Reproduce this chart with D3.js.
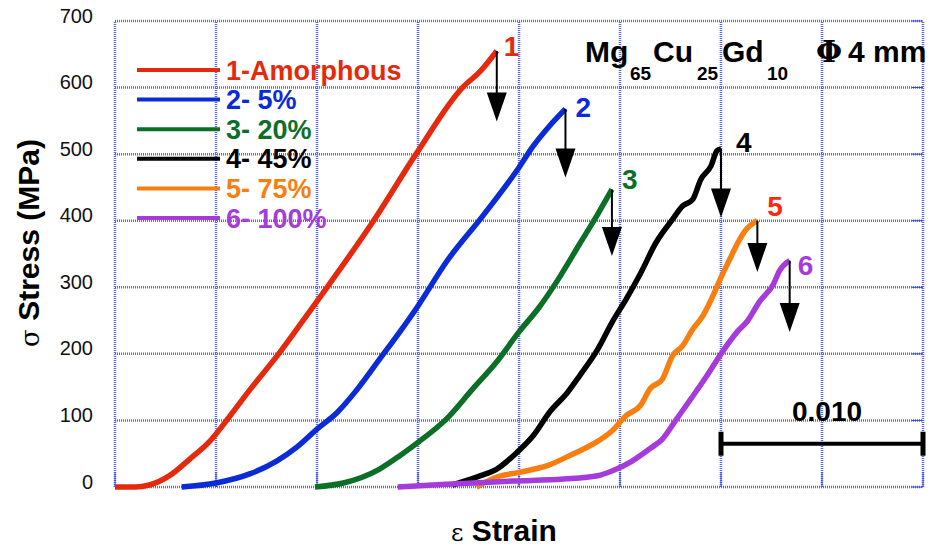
<!DOCTYPE html>
<html>
<head>
<meta charset="utf-8">
<script src="https://cdn.jsdelivr.net/npm/d3@7"></script>
<style>
  html, body { margin: 0; padding: 0; background: #fff; }
  svg { display: block; font-family: "Liberation Sans", Arial, Helvetica, sans-serif; }
</style>
</head>
<body>
<svg id="chart" width="933" height="554"></svg>
<script>
// ---------------- DATA ----------------
const seriesNames = ["1-Amorphous", "2- 5%", "3- 20%", "4- 45%", "5- 75%", "6- 100%"];
const peakLabels = ["1", "2", "3", "4", "5", "6"];

// [strain, stress (MPa)]
const curve1 = [[0,0],[0.0010,0],[0.0017,3],[0.0027,17],[0.0037,42],[0.0047,69],[0.0057,107],[0.0067,147],[0.0081,200],[0.0090,237],[0.0105,300],[0.0128,400],[0.0149,500],[0.0172,600],[0.0181,625],[0.0189,655]];
const curve2 = [[0.0033,0],[0.0050,6],[0.0067,20],[0.0080,39],[0.0090,60],[0.0100,87],[0.0110,112],[0.0120,147],[0.0131,192],[0.0141,233],[0.0150,272],[0.0164,338],[0.0182,407],[0.0200,480],[0.0207,512],[0.0215,542],[0.0223,568]];
const curve3 = [[0.0099,0],[0.0113,6],[0.0131,27],[0.0141,47],[0.0150,67],[0.0164,102],[0.0177,147],[0.0189,188],[0.0200,233],[0.0210,270],[0.0219,310],[0.0230,365],[0.0239,410],[0.0246,447]];
const curve4 = [[0.0167,3],[0.0181,17],[0.0189,27],[0.0199,52],[0.0207,77],[0.0215,112],[0.0224,142],[0.0230,167],[0.0239,207],[0.0246,247],[0.0253,282],[0.0260,320],[0.0268,368],[0.0276,402],[0.0281,422],[0.0286,432],[0.0290,462],[0.0295,482],[0.0298,505],[0.0300,508]];
const curve5 = [[0.0179,0],[0.0189,15],[0.0200,22],[0.0214,32],[0.0227,50],[0.0237,65],[0.0246,84],[0.0253,107],[0.0260,122],[0.0265,148],[0.0271,162],[0.0276,197],[0.0281,212],[0.0286,237],[0.0291,257],[0.0296,287],[0.0300,315],[0.0304,340],[0.0308,365],[0.0312,385],[0.0318,400]];
const curve6 = [[0.0140,0],[0.0164,4],[0.0197,9],[0.0222,12],[0.0239,17],[0.0246,24],[0.0256,39],[0.0265,58],[0.0271,72],[0.0278,102],[0.0285,132],[0.0293,167],[0.0300,200],[0.0308,233],[0.0313,249],[0.0319,278],[0.0326,305],[0.0329,325],[0.0334,340]];
const curves = [curve1, curve2, curve3, curve4, curve5, curve6];

// stress reached by the tip of each fracture arrow
const arrowTipStress = [549, 465, 347, 405, 323, 233];

const yTicks = [0, 100, 200, 300, 400, 500, 600, 700];
const xGrid = [0, 0.005, 0.010, 0.015, 0.020, 0.025, 0.030, 0.035, 0.040];
const scaleBarStrain = [0.030, 0.040];
const scaleBarStress = 65;
const scaleBarLabel = "0.010";

// ---------------- STYLE ----------------
const colors = ["#e5290d", "#0b2bd6", "#0c6f27", "#000000", "#f77f12", "#a63bdb"];
const labelColors = ["#e5290d", "#0b2bd6", "#0c6f27", "#000000", "#ff2a0a", "#a63bdb"];
const labelOffsets = [[7, 5], [10, 8], [10, 0], [15, 3], [10, -5], [8, 14]];
const gridColor = "#5468e8";

const svg = d3.select("#chart");
const margin = { left: 115, top: 21, right: 10, bottom: 67 };
const W = 933 - margin.left - margin.right;
const H = 554 - margin.top - margin.bottom;

const x = d3.scaleLinear().domain([0, 0.04]).range([margin.left, margin.left + W]);
const y = d3.scaleLinear().domain([0, 700]).range([margin.top + H, margin.top]);

// grid (dotted blue)
const grid = svg.append("g");
grid.selectAll("line.v").data(xGrid).join("line")
  .attr("x1", d => x(d)).attr("x2", d => x(d))
  .attr("y1", y(0)).attr("y2", y(700))
  .attr("stroke", gridColor).attr("stroke-width", 2.5).attr("stroke-dasharray", "1,1");
grid.selectAll("line.h").data(yTicks).join("line")
  .attr("y1", d => y(d)).attr("y2", d => y(d))
  .attr("x1", x(0)).attr("x2", x(0.04))
  .attr("stroke", gridColor).attr("stroke-width", 2.5).attr("stroke-dasharray", "1,1");

// small solid inner ticks on right and bottom
grid.selectAll("line.rt").data(yTicks).join("line")
  .attr("x1", x(0.04) - 11).attr("x2", x(0.04))
  .attr("y1", d => y(d)).attr("y2", d => y(d))
  .attr("stroke", "#2a45e0").attr("stroke-width", 1);
grid.selectAll("line.bt").data(xGrid).join("line")
  .attr("x1", d => x(d)).attr("x2", d => x(d))
  .attr("y1", y(0)).attr("y2", y(0) - 15)
  .attr("stroke", "#2a45e0").attr("stroke-width", 1);

// y axis labels
const yAxis = d3.axisLeft(y).tickValues(yTicks).tickSize(0).tickPadding(22);
const ya = svg.append("g").attr("transform", `translate(${margin.left},0)`).call(yAxis);
ya.select(".domain").remove();
ya.selectAll("text").attr("font-size", 20).attr("fill", "#111")
  .attr("font-family", "'Liberation Sans', Arial, sans-serif").attr("dy", "0.05em");

// curves
const line = d3.line().x(d => x(d[0])).y(d => y(d[1])).curve(d3.curveMonotoneX);
svg.append("g").selectAll("path").data(curves).join("path")
  .attr("d", line).attr("fill", "none")
  .attr("stroke", (d, i) => colors[i]).attr("stroke-width", 5.5)
  .attr("stroke-linejoin", "round").attr("stroke-linecap", "butt");

// arrows at fracture
const arrows = svg.append("g");
curves.forEach((c, i) => {
  const p = c[c.length - 1];
  const px = x(p[0]), py = y(p[1]), ty = y(arrowTipStress[i]);
  arrows.append("line").attr("x1", px).attr("x2", px).attr("y1", py).attr("y2", ty - 20)
    .attr("stroke", "#000").attr("stroke-width", 2);
  arrows.append("path")
    .attr("d", `M${px - 10},${ty - 29} L${px + 10},${ty - 29} L${px},${ty} Z`)
    .attr("fill", "#000");
  svg.append("text").attr("x", px + labelOffsets[i][0]).attr("y", py + labelOffsets[i][1])
    .attr("font-size", 28).attr("font-weight", "bold").attr("fill", labelColors[i])
    .text(peakLabels[i]);
});

// legend
const lg = svg.append("g");
seriesNames.forEach((name, i) => {
  const ly = 70 + i * 29.6;
  lg.append("line").attr("x1", 137).attr("x2", 220).attr("y1", ly).attr("y2", ly)
    .attr("stroke", colors[i]).attr("stroke-width", 4);
  lg.append("text").attr("x", 226).attr("y", ly + 9.5)
    .attr("font-size", 27).attr("font-weight", "bold").attr("fill", colors[i]).text(name);
});

// composition title
const tt = svg.append("g").attr("font-weight", "bold").attr("fill", "#000");
[["Mg", 585, 62, 30], ["65", 630, 80, 19], ["Cu", 653, 62, 30], ["25", 697, 80, 19],
 ["Gd", 722, 62, 30], ["10", 767, 80, 19], ["4 mm", 848, 62, 30]].forEach(t => {
  tt.append("text").attr("x", t[1]).attr("y", t[2]).attr("font-size", t[3]).text(t[0]);
});
tt.append("text").attr("x", 816).attr("y", 62).attr("font-size", 30)
  .attr("font-family", "'DejaVu Serif', serif").attr("font-weight", "bold").text("Φ");

// scale bar
const sb = svg.append("g");
const sbY = y(scaleBarStress);
sb.append("line").attr("x1", x(scaleBarStrain[0])).attr("x2", x(scaleBarStrain[1]))
  .attr("y1", sbY).attr("y2", sbY).attr("stroke", "#000").attr("stroke-width", 4);
scaleBarStrain.forEach(s => {
  sb.append("line").attr("x1", x(s)).attr("x2", x(s)).attr("y1", sbY - 12).attr("y2", sbY + 12)
    .attr("stroke", "#000").attr("stroke-width", 5);
});
sb.append("text").attr("x", (x(scaleBarStrain[0]) + x(scaleBarStrain[1])) / 2 + 5).attr("y", sbY - 23)
  .attr("text-anchor", "middle").attr("font-size", 28).attr("font-weight", "bold").text(scaleBarLabel);

// axis titles
svg.append("text").attr("x", 504).attr("y", 541).attr("text-anchor", "middle")
  .attr("font-size", 30).attr("font-weight", "bold")
  .html('<tspan font-family="\'DejaVu Serif\', serif" font-weight="normal" font-size="24">ε</tspan> Strain');
svg.append("text").attr("transform", "translate(39,243) rotate(-90)").attr("text-anchor", "middle")
  .attr("font-size", 30).attr("font-weight", "bold")
  .html('<tspan font-family="\'DejaVu Serif\', serif" font-weight="normal" font-size="26">σ</tspan>  Stress (MPa)');
</script>
</body>
</html>
